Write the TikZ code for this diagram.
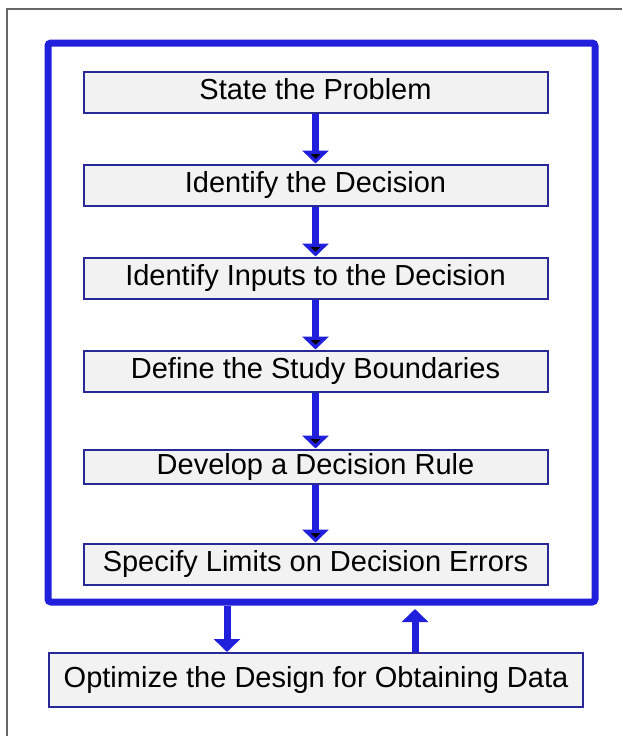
\documentclass[tikz,border=0pt]{standalone}
\usepackage{fontspec}
\setmainfont{Liberation Sans}
\usetikzlibrary{arrows.meta,positioning}
\definecolor{framebl}{RGB}{32,32,220}
\definecolor{boxbl}{RGB}{40,40,150}
\tikzset{x=1pt,y=-1pt,node distance=50pt,
  stepbox/.style={draw=boxbl,line width=2pt,fill=black!5,inner sep=0pt,minimum width=464pt,minimum height=41pt,text height=21pt,text depth=6pt,font=\fontsize{29}{35}\selectfont},
  loopframe/.style={draw=framebl,line width=7pt,rounded corners=3pt,inner sep=0pt,minimum width=547pt,minimum height=559pt},
  flow/.style={draw=framebl,line width=7pt,-{Triangle[width=26pt,length=13pt]}}}

\begin{document}
\begin{tikzpicture}
    \useasboundingbox (0,0) rectangle (622,736);
    \draw[black!60,line width=1.5pt] (7,736) -- (7,9) -- (622,9);
    \node[loopframe] (loop) at (321.5,322.5) {};
    \node[stepbox] (s1) at (315.5,92) {State the Problem};
    \node[stepbox] (s2) [below=of s1] {Identify the Decision};
    \node[stepbox] (s3) [below=of s2] {Identify Inputs to the Decision};
    \node[stepbox] (s4) [below=of s3] {Define the Study Boundaries};
    \node[stepbox,minimum height=34pt] (s5) [below=56pt of s4] {Develop a Decision Rule};
    \node[stepbox] (s6) [below=58pt of s5] {Specify Limits on Decision Errors};
    \node[stepbox,minimum width=534pt,minimum height=54pt] (opt) at (316,680) {Optimize the Design for Obtaining Data};
    \coordinate (dn) at (227,0);
    \coordinate (up) at (415,0);
    \path[flow]
    (s1) edge (s2)
    (s2) edge (s3)
    (s3) edge (s4)
    (s4) edge (s5)
    (s5) edge (s6)
    ;
    \draw[flow] (loop.south -| dn) -- (opt.north -| dn);
    \draw[flow,shorten >=3.5pt] (opt.north -| up) -- (loop.south -| up);
\end{tikzpicture}
\end{document}
